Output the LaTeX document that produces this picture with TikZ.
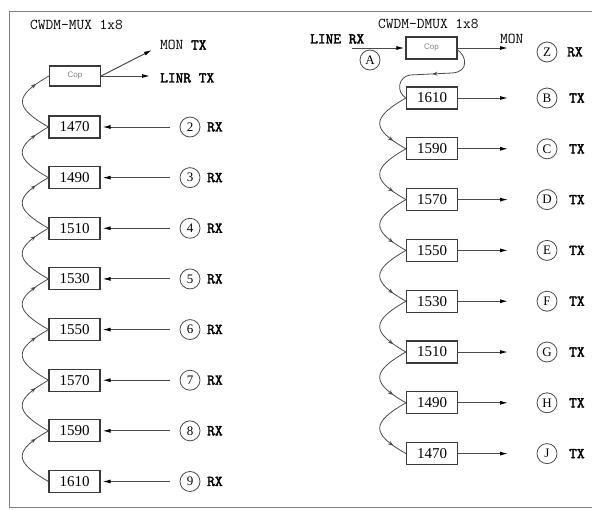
\documentclass[tikz,border=0pt]{standalone}
\usepackage{fontspec}
\setmainfont{Liberation Serif}
\newfontfamily\sansf{Liberation Sans}
\newfontfamily\heavyf{Latin Modern Mono}[FakeBold=2.5]
\usetikzlibrary{arrows.meta,decorations.markings}
\newcommand{\heavyfont}{\fontsize{15}{15}\heavyf\selectfont}
\definecolor{ln}{HTML}{4A4A4A}
\definecolor{bx}{HTML}{3A3A3A}
\begin{document}
\begin{tikzpicture}[x=1pt,y=-1pt,
  wbox/.style={draw=bx, line width=1.1pt, minimum width=51pt, minimum height=22pt, inner sep=0pt, font=\fontsize{15}{15}\selectfont},
  cbox/.style={wbox, text=gray, font=\sansf\fontsize{8}{8}\selectfont},
  ring/.style={circle, draw=ln, line width=0.8pt, minimum size=20pt, inner sep=0pt, font=\fontsize{13}{13}\selectfont},
  txt/.style={inner sep=0pt, anchor=west, font=\ttfamily\fontsize{15}{15}\selectfont},
  btxt/.style={inner sep=0pt, anchor=west, font=\heavyfont},
  flow/.style={draw=ln, line width=1pt, -{Latex[length=8pt,width=4pt,black]}},
  chain/.style={draw=ln, line width=0.8pt, postaction=decorate,
    decoration={markings, mark=at position #1 with {\arrow{Stealth[length=5pt,width=4pt]}}}},
  chain/.default=0.8]
\useasboundingbox (0,0) rectangle (592,509);
\draw[gray, line width=1pt] (592,11) -- (9,11) -- (9,507) -- (592,507);

% ---------------- left: MUX ----------------
\node[txt] (tl) at (30,25) {CWDM-MUX 1x8};
\node[cbox, minimum height=20pt] (cl) at (75,76) {Cop};
\coordinate (monl) at (152,50);
\coordinate (linr) at (150,76);
\draw[flow] (cl.east) -- (monl);
\draw[flow] (cl.east) -- (linr);
\node[txt] (monlt) at (160,45) {MON {\heavyfont TX}};
\node[btxt] (linrt) at (160,78) {LINR TX};

\foreach \w [count=\k, evaluate=\k as \y using {127+50.64*(\k-1)}, evaluate=\k as \n using int(\k+1)]
  in {1470,1490,1510,1530,1550,1570,1590,1610} {
  \node[wbox] (L\k) at (74.5,\y) {\w};
  \coordinate (s\k) at (170,\y);
  \draw[flow, shorten >=2pt] (s\k) -- (L\k.east);
  \node[ring] (n\k) at (190,\y) {\n};
  \node[btxt] (r\k) at (207,\y) {RX};
}
\foreach \k [evaluate=\k as \j using int(\k+1)] in {1,...,7} {
  \draw[chain] (L\j.west) .. controls +(-35,-20) and +(-35,20) .. (L\k.west);
}
\draw[chain] (L1.west) .. controls +(-35,-20) and +(-35,20) .. (cl.west);

% ---------------- right: DMUX ----------------
\node[txt] (tr) at (378,24) {CWDM-DMUX 1x8};
\node[btxt] (linet) at (310,39) {LINE RX};
\node[cbox] (cr) at (431.5,48) {Cop};
\coordinate (lin) at (352,48);
\draw[flow, shorten >=1pt] (lin) -- (cr.west);
\node[ring] (na) at (370,60) {A};
\coordinate (monr) at (508,48);
\draw[flow] (cr.east) -- (monr);
\node[txt] (monrt) at (500,39) {MON};
\node[ring] (nz) at (547,52) {Z};
\node[btxt] (rz) at (567,52) {RX};

\foreach \w/\c [count=\k, evaluate=\k as \y using {98+50.8*(\k-1)}]
  in {1610/B,1590/C,1570/D,1550/E,1530/F,1510/G,1490/H,1470/J} {
  \node[wbox] (R\k) at (432,\y) {\w};
  \coordinate (o\k) at (508,\y);
  \draw[flow] (R\k.east) -- (o\k);
  \node[ring] (m\k) at (547,\y) {\c};
  \node[btxt] (t\k) at (569,\y) {TX};
}
\foreach \k [evaluate=\k as \j using int(\k+1)] in {1,...,7} {
  \draw[chain] (R\k.west) .. controls +(-35,20) and +(-35,-20) .. (R\j.west);
}
\draw[chain=0.5] ([yshift=-2pt]cr.east) .. controls (466,55) and (470,72) .. (452,73)
  -- (410,75) .. controls (398,77) and (396,92) .. (R1.west);
\end{tikzpicture}
\end{document}
